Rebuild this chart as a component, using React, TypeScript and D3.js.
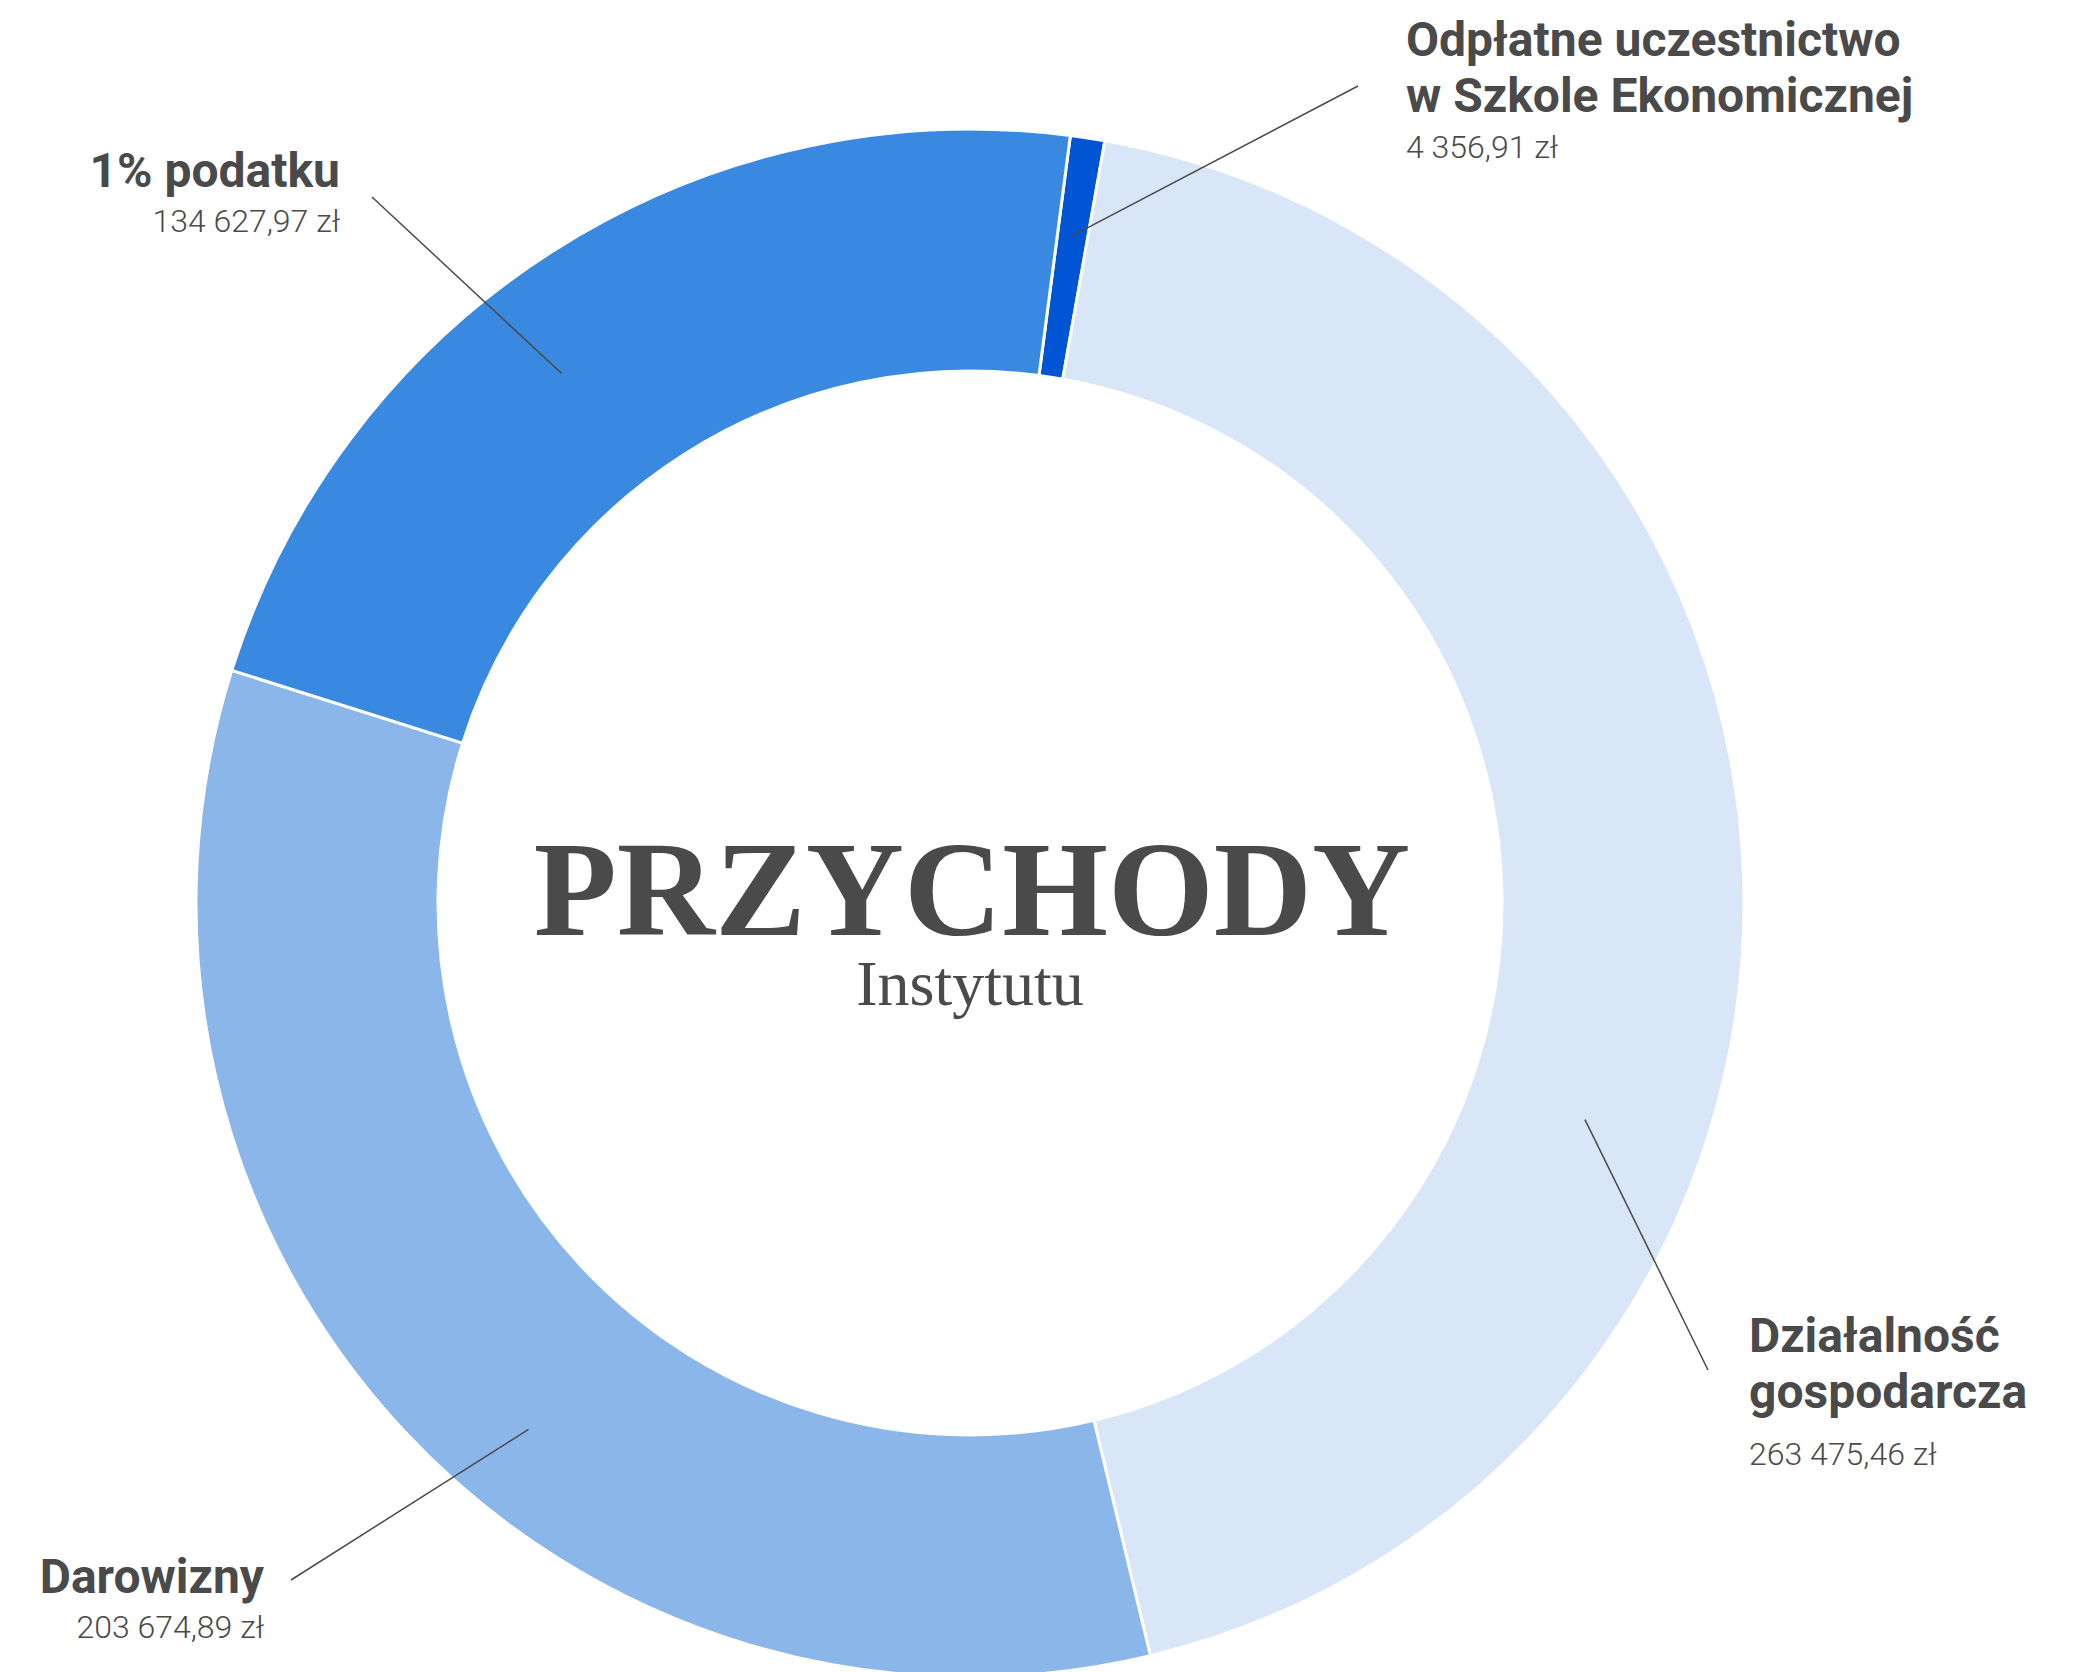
import React from "react";
import * as d3 from "d3";

// ---- data ----
const categories = [
  "Odpłatne uczestnictwo w Szkole Ekonomicznej",
  "Działalność gospodarcza",
  "Darowizny",
  "1% podatku",
];
const values = [4356.91, 263475.46, 203674.89, 134627.97];
const titleLines = [
  ["Odpłatne uczestnictwo", "w Szkole Ekonomicznej"],
  ["Działalność", "gospodarcza"],
  ["Darowizny"],
  ["1% podatku"],
];
const colors = ["#0055d4", "#d9e6f7", "#8ab6ea", "#3889df"];
const centerTitle = "PRZYCHODY";
const centerSubtitle = "Instytutu";

// ---- layout ----
const W = 2084;
const H = 1672;
const CX = 970;
const CY = 903;
const R_OUT = 774;
const R_IN = 532;
const START_DEG = 7.45;
const TEXT = "#4a4a4a";

const labelLayout = [
  { x: 1406, y: 56, anchor: "start", valueDy: 46, frac: 0.44, r: 674, end: [1358, 86] },
  { x: 1749, y: 1352, anchor: "start", valueDy: 57, frac: 0.635, r: 652, end: [1708, 1370] },
  { x: 264, y: 1593, anchor: "end", valueDy: 45, frac: 0.442, r: 687, end: [291, 1580] },
  { x: 340, y: 187, anchor: "end", valueDy: 45, frac: 0.436, r: 669, end: [372, 197] },
];
const LINE_H = 56;

const plLocale = d3.formatLocale({
  decimal: ",",
  thousands: " ",
  grouping: [3],
  currency: ["", " zł"],
});
const fmt = plLocale.format(",.2f");

export default function App() {
  const start = (START_DEG * Math.PI) / 180;
  const pie = d3
    .pie<number>()
    .sort(null)
    .value((d) => d)
    .startAngle(start)
    .endAngle(start + 2 * Math.PI);
  const arcs = pie(values);
  const arcGen = d3.arc<d3.PieArcDatum<number>>().innerRadius(R_IN).outerRadius(R_OUT);

  return (
    <svg
      width={W}
      height={H}
      style={{ position: "absolute", left: 0, top: 0, display: "block", background: "#fff" }}
    >
      <g transform={`translate(${CX},${CY})`}>
        {arcs.map((a, i) => (
          <path key={categories[i]} d={arcGen(a) || ""} fill={colors[i]} stroke="#fff" strokeWidth={3} />
        ))}
      </g>
      {arcs.map((a, i) => {
        const L = labelLayout[i];
        const ang = a.startAngle + (a.endAngle - a.startAngle) * L.frac;
        const px = CX + L.r * Math.sin(ang);
        const py = CY - L.r * Math.cos(ang);
        const lines = titleLines[i];
        const valueY = L.y + (lines.length - 1) * LINE_H + L.valueDy;
        return (
          <g key={"lab" + i}>
            <line x1={L.end[0]} y1={L.end[1]} x2={px} y2={py} stroke={TEXT} strokeWidth={1.5} />
            <text
              x={L.x}
              y={L.y}
              textAnchor={L.anchor}
              fontFamily="Roboto"
              fontWeight={700}
              fontSize={48}
              fill={TEXT}
            >
              {lines.map((t, j) => (
                <tspan key={j} x={L.x} y={L.y + j * LINE_H}>
                  {t}
                </tspan>
              ))}
            </text>
            <text
              x={L.x}
              y={valueY}
              textAnchor={L.anchor}
              fontFamily="Roboto"
              fontWeight={300}
              fontSize={32}
              fill={TEXT}
            >
              {fmt(values[i]) + " zł"}
            </text>
          </g>
        );
      })}
      <text
        x={972}
        y={935}
        textAnchor="middle"
        fontFamily="'Liberation Serif', serif"
        fontWeight={700}
        fontSize={136}
        fill={TEXT}
      >
        {centerTitle}
      </text>
      <text
        x={970}
        y={1005}
        textAnchor="middle"
        fontFamily="'Liberation Serif', serif"
        fontSize={64}
        fill={TEXT}
      >
        {centerSubtitle}
      </text>
    </svg>
  );
}
